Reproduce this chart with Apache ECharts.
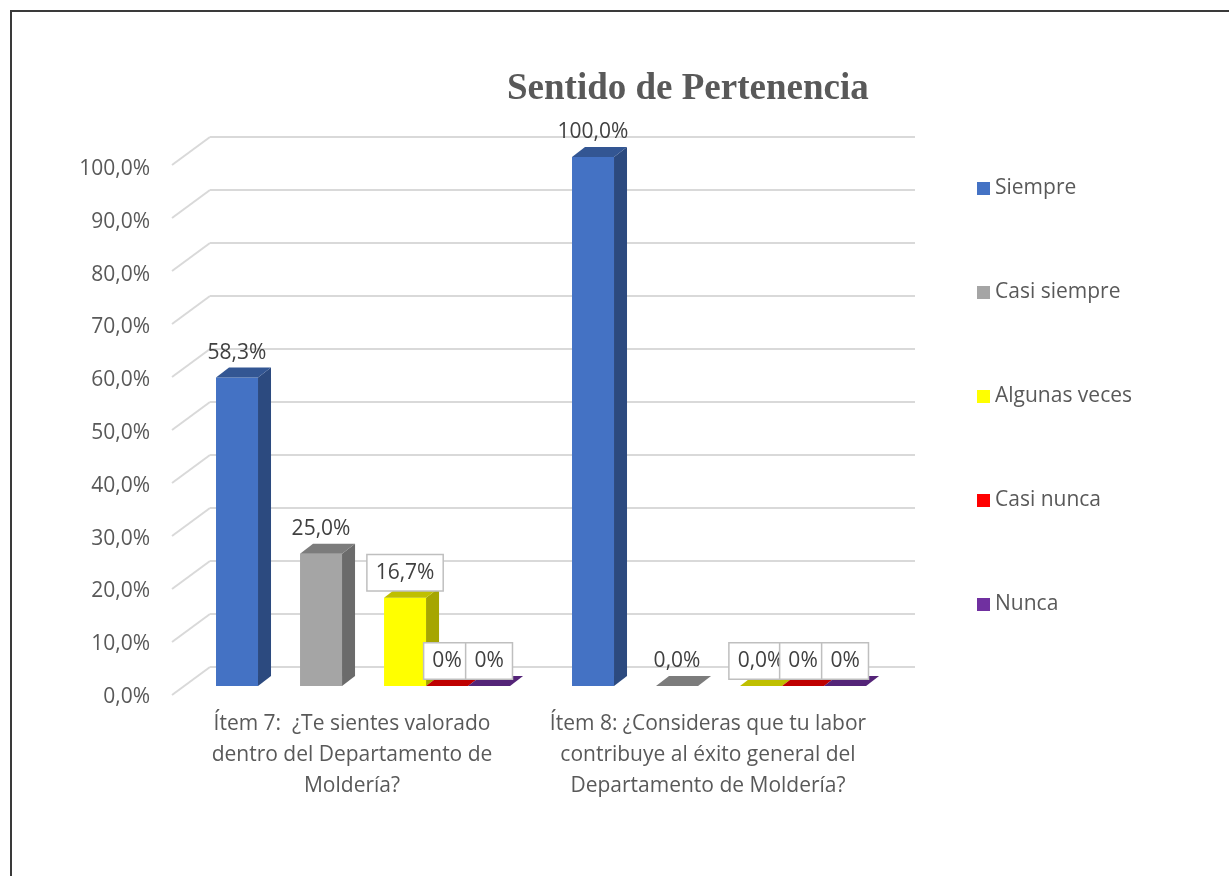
<!DOCTYPE html>
<html>
<head>
<meta charset="utf-8">
<title>Sentido de Pertenencia</title>
<script src="https://cdn.jsdelivr.net/npm/echarts@6/dist/echarts.min.js"></script>
<style>
  html, body { margin: 0; padding: 0; background: #fff; }
  #chart { width: 1229px; height: 876px; }
</style>
</head>
<body>
<div id="chart"></div>
<script>
// datos
const categories = [
  "Ítem 7:  ¿Te sientes valorado\ndentro del Departamento de\nMoldería?",
  "Ítem 8: ¿Consideras que tu labor\ncontribuye al éxito general del\nDepartamento de Moldería?"
];
const seriesNames = ["Siempre", "Casi siempre", "Algunas veces", "Casi nunca", "Nunca"];
const siempre = [58.3, 100.0];
const casiSiempre = [25.0, 0.0];
const algunasVeces = [16.7, 0.0];
const casiNunca = [0, 0];
const nunca = [0, 0];
const yTicks = [0, 10, 20, 30, 40, 50, 60, 70, 80, 90, 100];
const labelDecimals = [1, 1, 1, 0, 0];

// estilo
const colors = ["#4472C4", "#A5A5A5", "#FFFF00", "#FF0000", "#7030A0"];
const boxed = [false, false, true, true, true];
const slot = [-0.323, -0.087, 0.149, 0.267, 0.385]; // centro de cada barra en fracción de la categoría
const BAR_W = 0.118;
const DX = 13, DY = 10; // profundidad 3D
const FONT = "'Open Sans', 'Liberation Sans', sans-serif";
const FS = 21;
const GRID_COLOR = "#d9d9d9";

const allValues = [siempre, casiSiempre, algunasVeces, casiNunca, nunca];

function fmt(v, d) {
  return v.toFixed(d).replace(".", ",") + "%";
}

// oscurecer un color (f < 1)
function shade(c, f) {
  const a = echarts.color.parse(c);
  return "rgb(" + Math.round(a[0] * f) + "," + Math.round(a[1] * f) + "," + Math.round(a[2] * f) + ")";
}

function barRenderer(si) {
  return function (params, api) {
    const cat = api.value(0);
    const v = api.value(1);
    const base = api.coord([cat, 0]);
    const top = api.coord([cat, v]);
    const band = api.size([1, 0])[0];
    const w = band * BAR_W;
    const cx = base[0] + band * slot[si];
    const x0 = cx - w / 2, x1 = cx + w / 2;
    const yb = base[1], yt = top[1];
    const c = colors[si];
    const side = shade(c, 0.65);
    const topC = shade(c, 0.75);
    const children = [];
    if (yb - yt > 0.5) {
      children.push({
        type: "rect",
        shape: { x: x0, y: yt, width: w, height: yb - yt },
        style: { fill: c }
      });
      children.push({
        type: "polygon",
        shape: { points: [[x1, yt], [x1 + DX, yt - DY], [x1 + DX, yb - DY], [x1, yb]] },
        style: { fill: side }
      });
    }
    children.push({
      type: "polygon",
      shape: { points: [[x0, yt], [x1, yt], [x1 + DX, yt - DY], [x0 + DX, yt - DY]] },
      style: { fill: topC }
    });
    const lbl = {
      type: "text",
      z2: 50,
      style: {
        text: fmt(v, labelDecimals[si]),
        x: cx,
        y: yt - DY - 15,
        align: "center",
        verticalAlign: "middle",
        fill: "#404040",
        fontSize: FS,
        fontFamily: FONT
      }
    };
    if (boxed[si]) {
      lbl.style.backgroundColor = "#ffffff";
      lbl.style.borderColor = "#bfbfbf";
      lbl.style.borderWidth = 1.5;
      lbl.style.padding = [7, 8];
    }
    children.push(lbl);
    return { type: "group", children: children };
  };
}

const chart = echarts.init(document.getElementById("chart"));

const barSeries = seriesNames.map(function (name, si) {
  return {
    name: name,
    type: "custom",
    xAxisIndex: 2,
    yAxisIndex: 2,
    itemStyle: { color: colors[si] },
    renderItem: barRenderer(si),
    data: allValues[si].map(function (v, i) { return [i, v]; }),
    z: 3 + si
  };
});

const option = {
  animation: false,
  backgroundColor: "#ffffff",
  title: {
    text: "Sentido de Pertenencia",
    left: 502,
    top: 66,
    textStyle: {
      fontFamily: "'Liberation Serif', 'DejaVu Serif', serif",
      fontWeight: "bold",
      fontSize: 37,
      color: "#595959"
    }
  },
  legend: {
    data: seriesNames,
    orient: "vertical",
    left: 972,
    top: 173,
    itemWidth: 13,
    itemHeight: 13,
    itemGap: 83,
    icon: "rect",
    textStyle: {
      fontFamily: FONT,
      fontSize: FS,
      lineHeight: 21,
      color: "#595959"
    }
  },
  graphic: [
    {
      type: "rect",
      shape: { x: 11, y: 11, width: 1400, height: 1000 },
      style: { fill: "none", stroke: "#3a3a3a", lineWidth: 2 },
      silent: true
    }
  ],
  grid: [
    { left: 210, top: 137, width: 705, height: 530 }, // pared del fondo
    { left: 172, top: 169, width: 10, height: 528 },  // etiquetas del eje
    { left: 174, top: 157, width: 712, height: 529 }  // barras
  ],
  xAxis: [
    { gridIndex: 0, type: "value", min: 0, max: 1, show: false },
    { gridIndex: 1, type: "value", min: 0, max: 1, show: false },
    {
      gridIndex: 2,
      type: "category",
      data: categories,
      axisLine: { show: false },
      axisTick: { show: false },
      axisLabel: {
        interval: 0,
        margin: 23,
        fontFamily: FONT,
        fontSize: FS,
        lineHeight: 31,
        color: "#595959",
        align: "center"
      }
    }
  ],
  yAxis: [
    {
      gridIndex: 0,
      type: "value",
      min: 0,
      max: 100,
      interval: 10,
      axisLabel: { show: false },
      axisLine: { show: false },
      axisTick: { show: false },
      splitLine: { show: true, lineStyle: { color: GRID_COLOR, width: 2 } }
    },
    {
      gridIndex: 1,
      type: "value",
      min: 0,
      max: 100,
      interval: 10,
      axisLine: { show: false },
      axisTick: { show: false },
      splitLine: { show: false },
      axisLabel: {
        margin: 22,
        fontFamily: FONT,
        fontSize: FS,
        color: "#595959",
        formatter: function (v) { return fmt(v, 1); }
      }
    },
    { gridIndex: 2, type: "value", min: 0, max: 100, show: false }
  ],
  series: [
    {
      name: "pared",
      type: "custom",
      xAxisIndex: 0,
      yAxisIndex: 0,
      silent: true,
      z: 1,
      data: yTicks.map(function (t) { return [0, t]; }),
      renderItem: function (params, api) {
        const p = api.coord([0, api.value(1)]);
        return {
          type: "line",
          shape: { x1: p[0], y1: p[1], x2: p[0] - 38, y2: p[1] + 28 },
          style: { stroke: GRID_COLOR, lineWidth: 2 }
        };
      }
    }
  ].concat(barSeries)
};

chart.setOption(option);
</script>
</body>
</html>
